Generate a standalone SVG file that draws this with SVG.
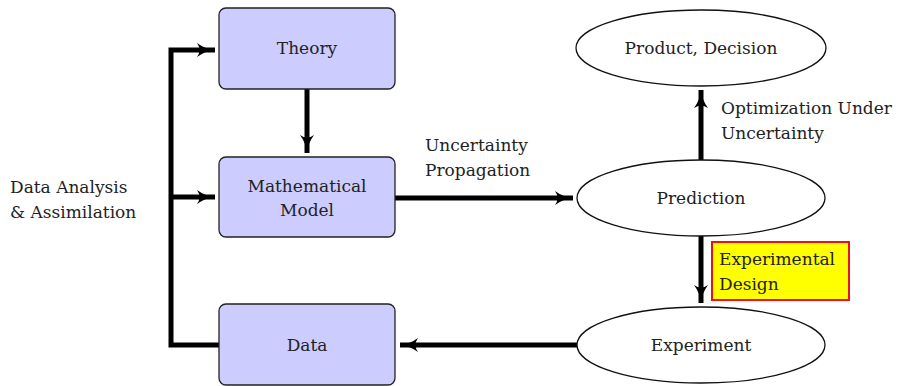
<svg xmlns="http://www.w3.org/2000/svg" width="901" height="386" viewBox="0 0 901 386">
<style>
text{font-family:"DejaVu Serif","Liberation Serif",serif;font-size:17px;fill:#222;}
.box{fill:#ccccff;stroke:#222;stroke-width:1.3;}
.ell{fill:#fff;stroke:#111;stroke-width:1.3;}
.c{fill:none;stroke:#000;stroke-width:5;}
.m{text-anchor:middle;}
</style>
<defs>
<marker id="ah" markerUnits="userSpaceOnUse" markerWidth="20" markerHeight="16" refX="18" refY="8" orient="auto">
<path d="M0,1 Q8,7 18,8 Q8,9 0,15 Q5,8 0,1 Z" fill="#000"/>
</marker>
</defs>
<g id="connectors">
<path class="c" d="M219,345 H171 V50 H215" marker-end="url(#ah)"/>
<path class="c" d="M171,197 H215" marker-end="url(#ah)"/>
<path class="c" d="M307,89 V153" marker-end="url(#ah)"/>
<path class="c" d="M395,198 H573" marker-end="url(#ah)"/>
<path class="c" d="M577,345 H400" marker-end="url(#ah)"/>
<path class="c" d="M701,160 V90" marker-end="url(#ah)"/>
<path class="c" d="M701,236 V303" marker-end="url(#ah)"/>
</g>
<g id="theory"><rect class="box" x="219" y="8" width="176" height="81" rx="7"/><text class="m" x="307" y="54">Theory</text></g>
<g id="model"><rect class="box" x="219" y="157" width="176" height="80" rx="7"/><text class="m" x="307" y="192">Mathematical</text><text class="m" x="307" y="216">Model</text></g>
<g id="data"><rect class="box" x="219" y="304" width="176" height="81" rx="7"/><text class="m" x="307" y="351">Data</text></g>
<g id="product"><ellipse class="ell" cx="701" cy="48" rx="125" ry="38"/><text class="m" x="701" y="54">Product, Decision</text></g>
<g id="prediction"><ellipse class="ell" cx="701" cy="198" rx="124" ry="38"/><text class="m" x="701" y="204">Prediction</text></g>
<g id="experiment"><ellipse class="ell" cx="701" cy="345" rx="124" ry="38"/><text class="m" x="701" y="351">Experiment</text></g>
<g id="design"><rect x="712" y="242" width="137" height="58" fill="#ffff00" stroke="#ee1111" stroke-width="2"/><text x="719" y="265">Experimental</text><text x="719" y="290">Design</text></g>
<g id="labels">
<text x="10" y="193">Data Analysis</text><text x="10" y="218">&amp; Assimilation</text>
<text x="425" y="151">Uncertainty</text><text x="425" y="176">Propagation</text>
<text x="721" y="114">Optimization Under</text><text x="721" y="139">Uncertainty</text>
</g>
</svg>
